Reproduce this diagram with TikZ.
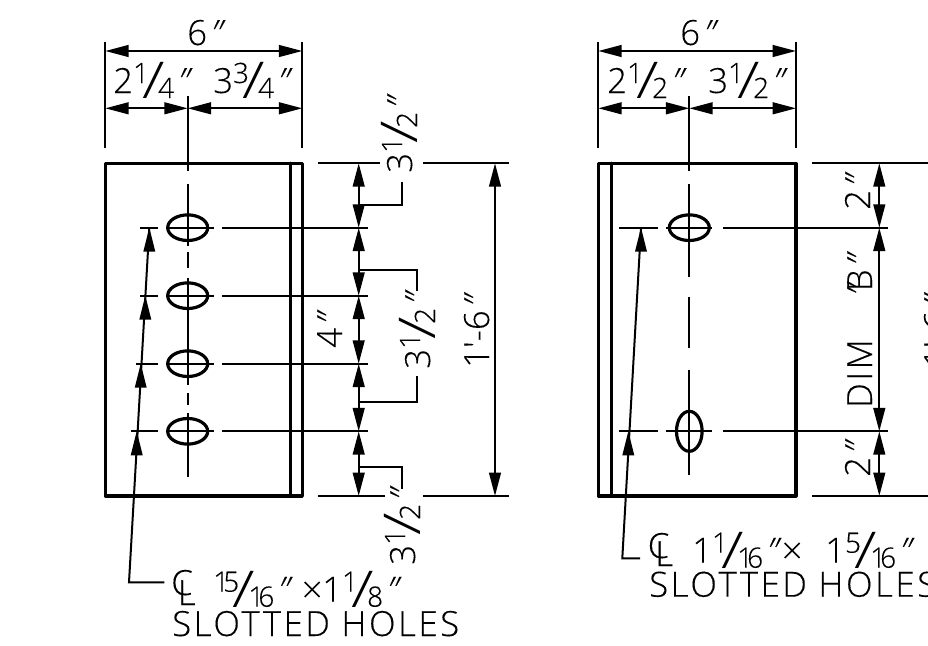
\documentclass[tikz,border=0pt]{standalone}
\usepackage{fontspec}
\usepackage{graphicx}
\setmainfont{Open Sans Light}
\newfontfamily\cad[FakeBold=0.2]{Open Sans Light}
\newfontfamily\cadsp[FakeBold=0.2,LetterSpace=7.5]{Open Sans Light}
\newfontfamily\qfont[FakeSlant=0.5,FakeBold=0.2]{Open Sans Light}
\newfontfamily\slfont{Open Sans Light}
\newcommand{\bigtxt}{\fontsize{26}{26}\selectfont}
\newcommand{\sml}{\fontsize{21}{21}\selectfont}
\newcommand{\qt}{{\kern-3pt\qfont ″}}
\newcommand{\frc}[2]{{\raisebox{7.5pt}{\sml #1}\kern-5pt\raisebox{-4pt}{\scalebox{1.3}[1]{\slfont\fontsize{38}{38}\selectfont /}}\kern-5pt\raisebox{-3.75pt}{\sml #2}}}
\newcommand{\oo}[1]{1\kern-4.5pt #1}
\usetikzlibrary{arrows.meta}
\tikzset{
  heavy/.style={line width=2.4pt,line cap=round,line join=round},
  hairline/.style={line width=1.5pt},
  dim/.style={hairline,{Triangle[length=17.5pt,width=8.8pt]}-{Triangle[length=17.5pt,width=8.8pt]}},
  label/.style={inner sep=0pt,font=\cad\bigtxt,anchor=base west},
  spaced/.style={inner sep=0pt,font=\cadsp\bigtxt,anchor=base west},
  hole/.style={line width=2.4pt},
}
\begin{document}
\begin{tikzpicture}[x=0.75pt,y=-0.75pt]
\useasboundingbox (0,0) rectangle (928,646);
\clip (0,0) rectangle (928,646);
% ----- left plate
\draw[heavy] (105.3,163.3) rectangle (302.3,496);
\draw[heavy] (290.7,163.3) -- (290.7,496);
\draw[hairline] (187.7,96) -- (187.7,171);
\draw[hairline] (187.7,184) -- (187.7,246);
\draw[hairline] (187.7,252) -- (187.7,268);
\draw[hairline] (187.7,278) -- (187.7,385);
\draw[hairline] (187.7,393) -- (187.7,405);
\draw[hairline] (187.7,413) -- (187.7,477);
\foreach \y/\s in {227.7/140,295.7/140,363.7/136,431.3/131}{
  \draw[hole] (187.7,\y) ellipse [x radius=20,y radius=12.8];
  \draw[hairline] (\s,\y) -- (157.7,\y);
  \draw[hairline] (166,\y) -- (214.3,\y);
  \draw[hairline] (222,\y) -- (367.7,\y);
}
% extension lines
\draw[hairline] (105.3,42) -- (105.3,147.7);
\draw[hairline] (302.3,42) -- (302.3,147.7);
\draw[dim] (105.3,51) -- (302.3,51);
\draw[dim] (105.3,108.3) -- (187.7,108.3);
\draw[dim] (187.7,108.3) -- (302.3,108.3);
\draw[hairline] (318.3,163.3) -- (380,163.3) (423,163.3) -- (509,163.3);
\draw[hairline] (318.3,496) -- (385,496) (423,496) -- (509,496);
\draw[dim] (358.7,163.3) -- (358.7,227.7);
\draw[dim] (358.7,227.7) -- (358.7,295.7);
\draw[dim] (358.7,295.7) -- (358.7,363.7);
\draw[dim] (358.7,363.7) -- (358.7,431.3);
\draw[dim] (358.7,431.3) -- (358.7,496);
\draw[dim] (495,163.3) -- (495,496);
\draw[hairline] (358.7,205) -- (402,205) -- (402,182);
\draw[hairline] (358.7,270) -- (416.7,270) -- (416.7,290.7);
\draw[hairline] (416.7,376) -- (416.7,401.7) -- (358.7,401.7);
\draw[hairline] (358.7,466.7) -- (402,466.7) -- (402,489);
% leader
\draw[hairline] (164.3,582.3) -- (129,582.3) -- (149.3,227.7);
\fill (149.3,227.7) -- ++(-6,24) -- ++(12,0) -- cycle;
\fill (145.3,295.7) -- ++(-6,24) -- ++(12,0) -- cycle;
\fill (140.7,363.7) -- ++(-6,24) -- ++(12,0) -- cycle;
\fill (136.7,431.3) -- ++(-6,24) -- ++(12,0) -- cycle;
% ----- left text
\node[label] at (187,45) {6\qt};
\node[label] at (113,93) {2\frc{1}{4}\qt};
\node[label] at (213,93) {3\frc{3}{4}\qt};
\node[label,rotate=90] at (412,173) {3\frc{1}{2}\qt};
\node[label,rotate=90] at (430,369) {3\frc{1}{2}\qt};
\node[label,rotate=90] at (415,565) {3\frc{1}{2}\qt};
\node[label,rotate=90] at (342,348) {4\qt};
\node[label,rotate=90] at (489,368) {1′-6\qt};
\node[label] at (171,595) {C};
\node[label] at (177.5,605) {L};
\node[label] at (213,601.7) {\frc{\oo5}{\oo6}\qt};
\node[label] at (302,601.7) {×};
\node[label] at (322,601.7) {1\frc{1}{8}\qt};
\node[spaced] at (172,636) {SLOTTED HOLES};
% ----- right plate
\draw[heavy] (598.3,163.3) rectangle (796,496);
\draw[heavy] (611.3,163.3) -- (611.3,496);
\draw[hairline] (689.3,96) -- (689.3,171);
\draw[hairline] (689.3,184) -- (689.3,276.7);
\draw[hairline] (689.3,296.7) -- (689.3,348);
\draw[hairline] (689.3,370) -- (689.3,475);
\draw[hole] (689.3,227.7) ellipse [x radius=20,y radius=12.8];
\draw[hole] (689.3,431.3) ellipse [x radius=12.8,y radius=20];
\foreach \y in {227.7,431.3}{
  \draw[hairline] (619.3,\y) -- (657.7,\y);
  \draw[hairline] (666,\y) -- (712.3,\y);
  \draw[hairline] (723,\y) -- (888.3,\y);
}
\draw[hairline] (598.3,42) -- (598.3,147.7);
\draw[hairline] (796,42) -- (796,147.7);
\draw[dim] (598.3,51) -- (796,51);
\draw[dim] (598.3,108.3) -- (689.3,108.3);
\draw[dim] (689.3,108.3) -- (796,108.3);
\draw[hairline] (812,163.3) -- (928,163.3);
\draw[hairline] (812,496) -- (928,496);
\draw[dim] (879.3,163.3) -- (879.3,227.7);
\draw[dim] (879.3,227.7) -- (879.3,431.3);
\draw[dim] (879.3,431.3) -- (879.3,496);
\draw[hairline] (640,558.3) -- (622.3,558.3) -- (641,227.7);
\fill (641,227.7) -- ++(-6,24) -- ++(12,0) -- cycle;
\fill (628.3,431.3) -- ++(-6,24) -- ++(12,0) -- cycle;
\node[label] at (680,45) {6\qt};
\node[label] at (607,93) {2\frc{1}{2}\qt};
\node[label] at (708,93) {3\frc{1}{2}\qt};
\node[label,rotate=90] at (870,210) {2\qt};
\node[label,rotate=90] at (870,477) {2\qt};
\node[spaced,rotate=90] at (872,408) {DIM\quad\kern4pt\qt B\qt};
\node[label,rotate=90] at (949,368) {1′-6\qt};
\node[label] at (647.5,558) {C};
\node[label] at (655,566) {L};
\node[label] at (692,562.7) {1\frc{1}{\oo6}\qt};
\node[label] at (782,562.7) {×};
\node[label] at (825,562.7) {1\frc{5}{\oo6}\qt};
\node[spaced] at (649,596.7) {SLOTTED HOLES};
\end{tikzpicture}
\end{document}
